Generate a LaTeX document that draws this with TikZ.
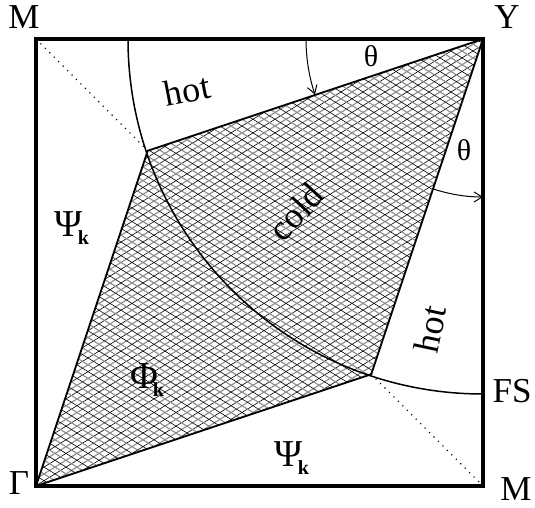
\documentclass[tikz,border=0pt]{standalone}
\usepackage{fontspec}
\setmainfont{Liberation Serif}
\usetikzlibrary{arrows.meta}
\newcommand{\subk}{\kern-2.5pt\raisebox{-4pt}{\fontsize{10}{12}\selectfont\bfseries k}}
\begin{document}
\begin{tikzpicture}[x=0.5pt,y=0.5pt,
  corner/.style={font=\fontsize{17.5}{20}\selectfont, inner sep=0pt},
  word/.style={font=\fontsize{18}{21}\selectfont, inner sep=0pt},
  angl/.style={font=\fontsize{15}{18}\selectfont, inner sep=0pt},
  greek/.style={font=\fontsize{19}{22}\selectfont, inner sep=0pt},
  hatchblack/.style={line width=0.3pt, black},
  hatchgray/.style={line width=0.55pt, black!45},
  frame/.style={line width=1.6pt, line join=miter},
  rhomb/.style={line width=0.9pt, line join=miter},
  fermi/.style={line width=0.75pt},
  diag/.style={line width=0.55pt, dash pattern=on 0.55pt off 2.6pt},
  anglearrow/.style={line width=0.5pt, -{Straight Barb[length=4pt,width=5pt]}}]
\useasboundingbox (0,0) rectangle (535,508);
\coordinate (G) at (36,22);
\coordinate (Y) at (483,469);
\coordinate (M1) at (36,469);
\coordinate (M2) at (483,22);
\coordinate (A) at (147.75,357.25);
\coordinate (B) at (371.25,133.75);
% hatched rhombus
\begin{scope}
  \clip (G) -- (A) -- (Y) -- (B) -- cycle;
  \foreach \i in {-42,...,26} {
    \draw[hatchgray] (\i*22+11,0) -- ++(900,558);
    \draw[hatchblack] (\i*22,0) -- ++(900,558);
  }
  \foreach \i in {0,...,66} {
    \draw[hatchgray] (\i*22+11,0) -- ++(-900,558);
    \draw[hatchblack] (\i*22,0) -- ++(-900,558);
  }
\end{scope}
\draw[rhomb] (G) -- (A) -- (Y) -- (B) -- cycle;
% dotted diagonals
\draw[diag] (M1) -- (A);
\draw[diag] (B) -- (M2);
% Fermi surface
\coordinate (FStop) at (128,469);
\draw[fermi] (FStop) arc[start angle=180, end angle=270, radius=355];
% angle arrows
\draw[anglearrow] ([shift={(180:177)}]Y) arc[start angle=180, end angle=198.3, radius=177];
\draw[anglearrow] ([shift={(251.7:158)}]Y) arc[start angle=251.7, end angle=270, radius=158];
% frame
\draw[frame] (G) rectangle (Y);
% labels
\node[corner] (lM1) at (24,491) {M};
\node[corner] (lY) at (507,491) {Y};
\node[corner] (lG) at (19,25) {Γ};
\node[corner] (lM2) at (516,19) {M};
\node[corner] (lFS) at (512,117) {FS};
\node[word, rotate=11] (hot1) at (187,418) {hot};
\node[word, rotate=47] (cold) at (296,296) {cold};
\node[word, rotate=78] (hot2) at (430,179) {hot};
\node[angl] (th1) at (371,452) {θ};
\node[angl] (th2) at (464,358) {θ};
\node[greek] (psi1) at (72,280) {Ψ\subk};
\node[greek] (phi) at (147,128) {Φ\subk};
\node[greek] (psi2) at (292,50) {Ψ\subk};
\end{tikzpicture}
\end{document}
